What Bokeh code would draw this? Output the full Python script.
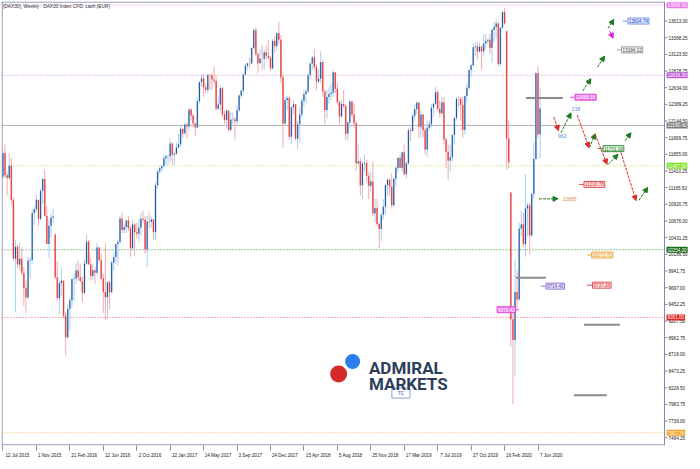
import pandas as pd
from bokeh.plotting import figure
from bokeh.models import (ColumnDataSource, FixedTicker, Range1d, Label, Arrow, NormalHead, Span)
from bokeh.core.properties import value
from bokeh.embed import file_html
from bokeh.resources import INLINE

# ---------------- data: weekly candles (week starting Sunday) ----------------
start_date = "2015-07-12"

week_open = [
    # 2015
    11330, 11673, 11347, 11308, 11490, 10985, 10124, 10298, 10038, 10123, 9916, 9688, 9553,
    10096, 10104, 10794, 10850, 10988, 10708, 11119, 11293, 10752, 10340, 10608, 10727,
    # 2016
    10480, 9849, 9545, 9764, 9798, 9286, 8967, 9388, 9513, 9824, 9831, 9950, 9851, 9794, 9622,
    10051, 10373, 10039, 9870, 9952, 9916, 10286, 10103, 9834, 9631, 9557, 9776, 9630, 10066,
    10147, 10337, 10367, 10713, 10544, 10587, 10684, 10573, 10276, 10626, 10511, 10490, 10580,
    10711, 10696, 10259, 10668, 10664, 10700, 10513, 11203, 11404, 11449,
    # 2017
    11481, 11599, 11629, 11630, 11814, 11651, 11666, 11757, 11804, 12027, 11963, 12095, 12064,
    12313, 12225, 12109, 12049, 12438, 12717, 12770, 12638, 12602, 12823, 12815, 12753, 12733,
    12325, 12389, 12627, 12240, 12162, 12297, 12014, 12165, 12168, 12143, 12303, 12519, 12592,
    12829, 12956, 12992, 12991, 13217, 13478, 13127, 12994, 13060, 13059, 13153, 13104, 13073,
    # 2018
    12918, 13320, 13245, 13434, 13340, 12785, 12107, 12452, 12483, 11914, 12346, 12390, 11886,
    12097, 12241, 12442, 12540, 12580, 12820, 12990, 13078, 12938, 12724, 12767, 13011, 12580,
    12306, 12497, 12541, 12561, 12860, 12616, 12424, 12210, 12394, 12364, 11959, 12124, 12430,
    12246, 12111, 11523, 11553, 11200, 11519, 11529, 11341, 11193, 11257, 10788, 10866, 10634,
    # 2019
    10559, 10767, 10887, 11205, 11282, 11181, 10907, 11299, 11457, 11602, 11457, 11686, 11364,
    11526, 12009, 11999, 12222, 12315, 12412, 12060, 12238, 12011, 11726, 12045, 12096, 12340,
    12399, 12568, 12323, 12260, 12419, 11872, 11693, 11563, 11612, 11939, 12192, 12469, 12468,
    12381, 12013, 12512, 12634, 12895, 12962, 13229, 13241, 13164, 13236, 13167, 13283, 13319,
    # 2020
    13337, 13219, 13483, 13526, 13577, 12982, 13514, 13744, 13460, 11890, 11095, 9232, 8929,
    9633, 9525, 10565, 10626, 10336, 10861, 10904, 10465, 11074, 11586, 12848, 11949,
]

week_high = [
    # 2015
    11700, 11800, 11400, 11670, 11600, 11020, 10400, 10330, 10350, 10290, 10000, 9800, 10150,
    10140, 10850, 10890, 11060, 10900, 11150, 11300, 11430, 10890, 10700, 10780, 10860,
    # 2016
    10490, 10090, 9800, 9980, 9800, 9340, 9450, 9560, 9830, 9900, 10060, 10100, 10050, 9860,
    10120, 10480, 10400, 10120, 10050, 10000, 10350, 10300, 10200, 9900, 10350, 9800, 9800,
    10100, 10200, 10340, 10400, 10750, 10800, 10640, 10700, 10750, 10600, 10690, 10650, 10650,
    10700, 10800, 10830, 10750, 10750, 10800, 10740, 10700, 11250, 11420, 11480, 11500,
    # 2017
    11650, 11650, 11660, 11890, 11830, 11700, 11830, 11960, 12080, 12040, 12110, 12120, 12330,
    12330, 12250, 12120, 12480, 12720, 12830, 12840, 12700, 12830, 12830, 12850, 12950, 12800,
    12500, 12680, 12650, 12300, 12320, 12300, 12270, 12270, 12200, 12380, 12540, 12600, 12830,
    12990, 13000, 13070, 13230, 13500, 13525, 13150, 13200, 13250, 13200, 13250, 13340, 13100,
    # 2018
    13350, 13390, 13450, 13600, 13400, 12830, 12500, 12520, 12520, 12360, 12450, 12400, 12150,
    12350, 12480, 12600, 12620, 12850, 13000, 13100, 13200, 12980, 12900, 13170, 13050, 12600,
    12600, 12650, 12700, 12890, 12860, 12700, 12450, 12450, 12600, 12400, 12150, 12460, 12440,
    12400, 12150, 11800, 11600, 11560, 11650, 11580, 11400, 11400, 11550, 11000, 11000, 10650,
    # 2019
    10800, 11000, 11220, 11300, 11300, 11380, 11300, 11480, 11620, 11650, 11700, 11800, 11550,
    12050, 12050, 12250, 12400, 12440, 12430, 12300, 12250, 12050, 12150, 12150, 12400, 12410,
    12650, 12600, 12450, 12500, 12500, 11900, 11800, 11800, 11950, 12200, 12500, 12500, 12500,
    12500, 12520, 12700, 12900, 12990, 13290, 13300, 13300, 13300, 13250, 13420, 13420, 13360,
    # 2020
    13430, 13500, 13600, 13640, 13600, 13520, 13760, 13800, 13480, 12150, 11100, 9400, 10100,
    9950, 10650, 10830, 10800, 11360, 10950, 10950, 11100, 11830, 12860, 12950, 12630,
]

week_low = [
    # 2015
    11290, 11310, 11050, 11290, 10920, 10090, 9338, 9980, 9950, 9880, 9430, 9325, 9530,
    9840, 10050, 10620, 10800, 10600, 10680, 10930, 10740, 10340, 10140, 10440, 10650,
    # 2016
    9830, 9500, 9310, 9580, 9240, 8700, 8960, 9080, 9400, 9500, 9750, 9800, 9780, 9480,
    9600, 10030, 10030, 9800, 9820, 9750, 9880, 10080, 9800, 9330, 9220, 9230, 9380,
    9620, 9950, 10050, 10020, 10350, 10500, 10500, 10500, 10530, 10150, 10250, 10170, 10420,
    10380, 10460, 10650, 10200, 10000, 10570, 10580, 10400, 10400, 11150, 11370, 11400,
    # 2017
    11470, 11500, 11500, 11560, 11500, 11500, 11650, 11750, 11760, 11900, 11950, 11900, 12000,
    12150, 12050, 11930, 12040, 12400, 12650, 12500, 12550, 12560, 12600, 12600, 12700, 12300,
    12300, 12300, 12200, 12100, 12050, 11980, 12000, 12100, 11870, 12100, 12280, 12480, 12540,
    12820, 12900, 12920, 12980, 13200, 13100, 12850, 12980, 12900, 12900, 13050, 13050, 12880,
    # 2018
    12900, 13150, 13180, 13280, 12700, 11750, 12100, 12300, 11870, 11800, 12250, 11860, 11730,
    11830, 12200, 12350, 12400, 12550, 12750, 12900, 12900, 12600, 12700, 12700, 12500, 12100,
    12180, 12400, 12450, 12500, 12550, 12380, 12100, 12200, 12330, 11860, 11860, 12050, 12200,
    12050, 11420, 11500, 11050, 11000, 11400, 11250, 11000, 11100, 10750, 10650, 10600, 10280,
    # 2019
    10380, 10700, 10780, 11050, 11050, 10860, 10880, 11180, 11400, 11450, 11400, 11350, 11300,
    11500, 11850, 11980, 12150, 12250, 11900, 11900, 11900, 11650, 11620, 12000, 12050, 12200,
    12380, 12300, 12200, 12230, 11800, 11450, 11270, 11400, 11550, 11800, 12150, 12350, 12150,
    11900, 11950, 12430, 12600, 12800, 12950, 13100, 13050, 13150, 12900, 13100, 13200, 13270,
    # 2020
    13130, 13000, 13300, 13350, 12950, 12950, 13500, 13560, 11430, 11450, 8830, 7985, 8400,
    9400, 9500, 10450, 10300, 10150, 10450, 10180, 10450, 11000, 11580, 11900, 11600,
]

week_close = [
    # 2015
    11673, 11347, 11308, 11490, 10985, 10124, 10298, 10038, 10123, 9916, 9688, 9553, 10096,
    10104, 10794, 10850, 10988, 10708, 11119, 11293, 10752, 10340, 10608, 10727, 10743,
    # 2016
    9849, 9545, 9764, 9798, 9286, 8967, 9388, 9513, 9824, 9831, 9950, 9851, 9794, 9622,
    10051, 10373, 10039, 9870, 9952, 9916, 10286, 10103, 9834, 9631, 9557, 9776, 9630,
    10066, 10147, 10337, 10367, 10713, 10544, 10587, 10684, 10573, 10276, 10626, 10511, 10490,
    10580, 10711, 10696, 10259, 10668, 10664, 10700, 10513, 11203, 11404, 11449, 11481,
    # 2017
    11599, 11629, 11630, 11814, 11651, 11666, 11757, 11804, 12027, 11963, 12095, 12064, 12313,
    12225, 12109, 12049, 12438, 12717, 12770, 12638, 12602, 12823, 12815, 12753, 12733, 12325,
    12389, 12627, 12240, 12162, 12297, 12014, 12165, 12168, 12143, 12303, 12519, 12592, 12829,
    12956, 12992, 12991, 13217, 13478, 13127, 12994, 13060, 13059, 13153, 13104, 13073, 12918,
    # 2018
    13320, 13245, 13434, 13340, 12785, 12107, 12452, 12483, 11914, 12346, 12390, 11886, 12097,
    12241, 12442, 12540, 12580, 12820, 12990, 13078, 12938, 12724, 12767, 13011, 12580, 12306,
    12497, 12541, 12561, 12860, 12616, 12424, 12210, 12394, 12364, 11959, 12124, 12430, 12246,
    12111, 11523, 11553, 11200, 11519, 11529, 11341, 11193, 11257, 10788, 10866, 10634, 10559,
    # 2019
    10767, 10887, 11205, 11282, 11181, 10907, 11299, 11457, 11602, 11457, 11686, 11364, 11526,
    12009, 11999, 12222, 12315, 12412, 12060, 12238, 12011, 11726, 12045, 12096, 12340, 12399,
    12568, 12323, 12260, 12419, 11872, 11693, 11563, 11612, 11939, 12192, 12469, 12468, 12381,
    12013, 12512, 12634, 12895, 12962, 13229, 13241, 13164, 13236, 13167, 13283, 13319, 13337,
    # 2020
    13219, 13483, 13526, 13577, 12982, 13514, 13744, 13579, 11890, 11541, 9232, 8929, 9633,
    9525, 10565, 10626, 10336, 10861, 10904, 10465, 11074, 11586, 12848, 11949, 12331,
]

x_tick_labels = ["12 Jul 2015", "1 Nov 2015", "21 Feb 2016", "12 Jun 2016", "2 Oct 2016",
                 "22 Jan 2017", "14 May 2017", "3 Sep 2017", "24 Dec 2017", "15 Apr 2018",
                 "5 Aug 2018", "25 Nov 2018", "17 Mar 2019", "7 Jul 2019", "27 Oct 2019",
                 "16 Feb 2020", "7 Jun 2020"]

y_tick_values = [7494.25, 7739.00, 7983.75, 8228.50, 8473.25, 8718.00, 8962.75, 9207.50,
                 9452.25, 9697.00, 9941.75, 10186.50, 10431.25, 10676.00, 10920.75, 11165.50,
                 11410.25, 11655.00, 11899.75, 12144.50, 12389.25, 12634.00, 12878.75,
                 13123.50, 13368.25, 13613.00]

# horizontal price levels with their axis tags
level_price = [13845.50, 12816.30, 12080.40, 11487.50, 10254.20, 9261.00, 7567.74]
level_line_color = ["#e384e3", "#d085e0", "#b0b0b0", "#b9dc3a", "#2e8b2e", "#f05a5a", "#f5b445"]
level_tag_color = ["#e879e8", "#c25fd6", "#7d7d7d", "#7ee023", "#1b6b1b", "#e02525", "#f3a428"]
level_dash = ["1 2", "1 2", "solid", "1 2", "1 2", "1 2", "1 2"]

# gray horizontal marker segments (week index, price)
seg_week_start = [250.2, 245.5, 278.0, 273.2]
seg_week_end = [267.9, 259.8, 295.2, 288.9]
seg_price = [12484, 9845, 9155, 8118]

# projected path arrows (week index, price)
arrow_w0 = [263.5, 267.0, 277.4, 284.5, 289.5, 290.4, 274.8, 280.6, 283.4, 289.5, 297.6, 295.7, 304.3, 256.5]
arrow_p0 = [12207, 11973, 12587, 12937, 13506, 13463, 12232, 11754, 11944, 11506, 11856, 11681, 10980, 11002]
arrow_w1 = [265.8, 271.8, 281.3, 287.8, 292.3, 291.9, 280.4, 283.4, 289.0, 294.3, 300.5, 302.9, 308.5, 265.6]
arrow_p1 = [12002, 12265, 12766, 13098, 13638, 13360, 11754, 11958, 11510, 11656, 11973, 10976, 11170, 11002]
arrow_kind = ["red", "green", "green", "green", "green", "magenta", "red", "green", "red", "green",
              "green", "red", "green", "green"]

# boxed price tags inside the chart
tag_week = [299.0, 296.0, 273.7, 287.1, 278.0, 281.7, 259.8, 282.1, 236.4]
tag_price = [13613, 13190, 12494, 11739, 11214, 10177, 9720, 9734, 9374]
tag_text = ["13604.74", "13184.12", "12485.33", "11731.16", "11210.78", "10171.72",
            "9714.40", "9737.26", "9376.42"]
tag_kind = ["blue", "gray", "magenta", "green", "red", "orange", "purple", "red", "magenta"]
tag_dash_w0 = [296.5, 293.8, 271.3, 284.5, 275.6, 279.4, 257.4, 279.4, 245.0]
tag_dash_w1 = [298.6, 295.7, 273.7, 287.1, 278.0, 281.7, 259.8, 282.1, 246.9]

# plain text notes
note_week = [265.6, 272.2, 267.8]
note_price = [11930, 12322, 10995]
note_text = ["962", "238", "10895"]
note_color = ["#4f8fe0", "#4f8fe0", "#d09050"]

title_text = "[DAX30], Weekly : DAX30 Index CFD, cash (EUR)"

# ---------------- layout constants ----------------
FONT = "Liberation Sans"
FRAME = "#8585ad"
FRAME_W, FRAME_H = 688, 444
WEEK_PX = 2.09
X_START = -0.7
X_END = X_START + FRAME_W / WEEK_PX
X_AXIS = X_END - 25 / WEEK_PX                    # price axis line; its labels sit right of it
Y_START, Y_END = 7380, 13900
PX_W = 1 / WEEK_PX                               # weeks per pixel
PX_P = (Y_END - Y_START) / FRAME_H               # price per pixel

# ---------------- derived ----------------
n = len(week_close)
assert len(week_open) == n and len(week_high) == n and len(week_low) == n
weeks = list(range(n))
rising = [c >= o for o, c in zip(week_open, week_close)]
light = ["#a9cff3" if r else "#f6aaaa" for r in rising]
dark = ["#1f4f98" if r else "#e63434" for r in rising]
top = [max(o, c) for o, c in zip(week_open, week_close)]
bot = [min(o, c) for o, c in zip(week_open, week_close)]
src = ColumnDataSource(dict(w=weeks, o=week_open, h=week_high, l=week_low, c=week_close,
                            top=top, bot=bot, light=light, dark=dark))

t0 = pd.Timestamp(start_date)
x_tick_pos = [int((pd.to_datetime(s, format="%d %b %Y") - t0).days // 7) for s in x_tick_labels]
# label centres so that each date text starts right at its tick mark
x_label_pos = [pos + (len(s) * 2.35 / 2 + 1.5) * PX_W for pos, s in zip(x_tick_pos, x_tick_labels)]

p = figure(frame_width=FRAME_W, frame_height=FRAME_H, output_backend="svg", toolbar_location=None,
           x_range=Range1d(X_START, X_END), y_range=Range1d(Y_START, Y_END),
           y_axis_location=None,
           min_border_left=1, min_border_top=1, min_border_right=0, min_border_bottom=0,
           background_fill_color="white", border_fill_color="white", outline_line_color=None)
p.grid.visible = False

# bottom time axis
ax = p.xaxis[0]
ax.ticker = FixedTicker(ticks=x_label_pos, minor_ticks=x_tick_pos)
ax.major_label_overrides = {pos: lbl for pos, lbl in zip(x_label_pos, x_tick_labels)}
ax.axis_line_color = None
ax.major_tick_line_color = None
ax.minor_tick_line_color = FRAME
ax.minor_tick_in = 0
ax.minor_tick_out = 5
ax.major_tick_in = 0
ax.major_tick_out = 0
ax.major_label_standoff = 2
ax.major_label_text_font = FONT
ax.major_label_text_font_size = "4.6px"
ax.major_label_text_color = "#202020"

# frame lines: left, top, bottom and the price axis line
p.add_layout(Span(location=X_START + 0.6 * PX_W, dimension="height", line_color=FRAME, line_width=1))
p.add_layout(Span(location=X_AXIS, dimension="height", line_color=FRAME, line_width=1))
p.segment(x0=[X_START, X_START], y0=[Y_END - 0.6 * PX_P, Y_START + 0.6 * PX_P],
          x1=[X_AXIS, X_AXIS], y1=[Y_END - 0.6 * PX_P, Y_START + 0.6 * PX_P],
          line_color=FRAME, line_width=1)

# price axis ticks and labels
p.ray(x=[X_AXIS] * len(y_tick_values), y=y_tick_values, length=3, length_units="screen",
      angle=0, line_color=FRAME, line_width=1)
p.text(x=[X_AXIS] * len(y_tick_values), y=y_tick_values, text=[f"{v:.2f}" for v in y_tick_values],
       x_offset=4, text_font=value(FONT), text_font_size="4.6px", text_color="#202020",
       text_align="left", text_baseline="middle")

# level lines
for v, lc, dash in zip(level_price, level_line_color, level_dash):
    p.segment(x0=[X_START], y0=[v], x1=[X_AXIS], y1=[v], line_color=lc, line_width=1, line_dash=dash)

# candles
p.segment(x0="w", y0="h", x1="w", y1="l", line_color="light", line_width=1, source=src)
p.vbar(x="w", width=0.85, top="top", bottom="bot", fill_color="light", line_color=None, source=src)
p.segment(x0="w", y0="o", x1="w", y1="c", line_color="dark", line_width=1, source=src)

# gray marker segments
p.segment(x0=seg_week_start, y0=seg_price, x1=seg_week_end, y1=seg_price,
          line_color="#8c8c8c", line_width=2)

# arrows
arrow_colors = {"green": "#1f7a1f", "red": "#e02828", "magenta": "#e020e0"}
for kind, col in arrow_colors.items():
    idx = [i for i, k in enumerate(arrow_kind) if k == kind]
    asrc = ColumnDataSource(dict(x0=[arrow_w0[i] for i in idx], y0=[arrow_p0[i] for i in idx],
                                 x1=[arrow_w1[i] for i in idx], y1=[arrow_p1[i] for i in idx]))
    p.add_layout(Arrow(end=NormalHead(size=5, fill_color=col, line_color=col),
                       x_start="x0", y_start="y0", x_end="x1", y_end="y1",
                       line_color=col, line_width=1, line_dash="3 1", source=asrc))

# boxed tags
tag_styles = {
    "blue": ("#dfe7ff", "#7a95e6", "#2b4fc4"),
    "gray": ("#f2f2f2", "#9a9a9a", "#505050"),
    "magenta": ("#f07ef0", "#d94fd9", "#ffffff"),
    "green": ("#e3f4e3", "#3b8f3b", "#1e6e1e"),
    "red": ("#ffe3e3", "#e05050", "#d42a2a"),
    "orange": ("#fff1d6", "#f0a840", "#e0901a"),
    "purple": ("#ebe6ff", "#8f7ad6", "#5a44b5"),
}
p.segment(x0=tag_dash_w0, y0=tag_price, x1=tag_dash_w1, y1=tag_price,
          line_color=[tag_styles[k][1] for k in tag_kind], line_width=1)
for w, v, t, k in zip(tag_week, tag_price, tag_text, tag_kind):
    bg, bd, tc = tag_styles[k]
    p.add_layout(Label(x=w, y=v, text=t, text_font=FONT, text_font_size="4.6px", text_color=tc,
                       text_align="left", text_baseline="middle", background_fill_color=bg,
                       border_line_color=bd, border_line_width=1, padding=1))

for w, v, t, c in zip(note_week, note_price, note_text, note_color):
    p.add_layout(Label(x=w, y=v, text=t, text_font=FONT, text_font_size="5px", text_color=c,
                       text_align="left", text_baseline="middle"))

# axis tags for the levels
for v, tc in zip(level_price, level_tag_color):
    p.add_layout(Label(x=X_AXIS, y=v, x_offset=2, text=f"{v:.2f}", text_font=FONT,
                       text_font_size="4.6px", text_color="white", text_align="left",
                       text_baseline="middle", background_fill_color=tc, padding=1))

# title
p.add_layout(Label(x=X_START + 1.5 * PX_W, y=Y_END - 5 * PX_P, text=title_text, text_font=FONT,
                   text_font_size="4.8px", text_color="#303030", text_align="left",
                   text_baseline="middle"))

# watermark logo
p.scatter(x=[167.3], y=[8614], size=15, fill_color="#2b7de9", line_color=None)
p.scatter(x=[160.6], y=[8429], size=17, fill_color="#d42a2a", line_color=None)
p.add_layout(Label(x=175.1, y=8517, text="ADMIRAL", text_font="Roboto",
                   text_font_style="bold", text_font_size="17px", text_color="#2d3e5b",
                   text_baseline="alphabetic"))
p.add_layout(Label(x=175.1, y=8279, text="MARKETS", text_font="Roboto",
                   text_font_style="bold", text_font_size="17px", text_color="#2d3e5b",
                   text_baseline="alphabetic"))
p.rect(x=[190.4], y=[8150], width=18, height=10, width_units="screen", height_units="screen",
       fill_color="white", line_color="#8a9ad8", line_width=1)
p.add_layout(Label(x=190.4, y=8150, text="TC", text_font=FONT, text_font_size="4.5px",
                   text_color="#3050b0", text_align="center", text_baseline="middle"))

open("out.html", "w").write(file_html(p, INLINE))
